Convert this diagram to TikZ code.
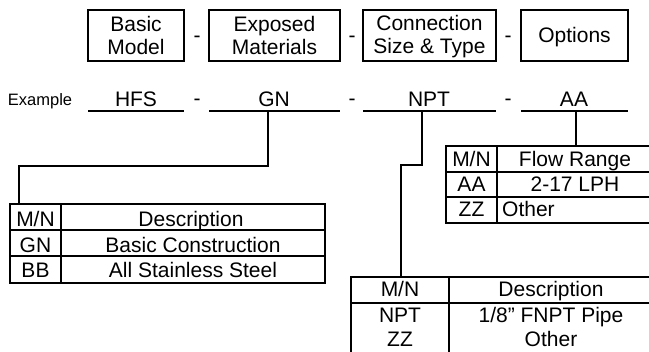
\documentclass[tikz,border=0pt]{standalone}
\usepackage{fontspec}
\setmainfont{Liberation Sans}
\newcommand{\boxstrut}{\rule[-2pt]{0pt}{20pt}}
\begin{document}
\begin{tikzpicture}[x=1pt,y=-1pt,
  every node/.style={font=\fontsize{21}{23}\selectfont, inner sep=0pt},
  txt/.style={anchor=base},
  hdrbox/.style={draw, line width=1.8pt, align=center, minimum height=51pt},
  uline/.style={line width=1.8pt},
  tline/.style={line width=1.8pt},
  conn/.style={line width=1.4pt},
  exlabel/.style={anchor=base, font=\fontsize{16.5}{19}\selectfont}]
\useasboundingbox (0,0) rectangle (649,352);
\begin{scope}
\clip (0,0) rectangle (649,352);
% header boxes
\node[hdrbox, minimum width=96pt] (b1) at (136,35.5) {\boxstrut Basic\\Model\boxstrut};
\node[txt] (d1) at (197,42.5) {-};
\node[hdrbox, minimum width=131pt] (b2) at (274.5,35.5) {\boxstrut Exposed\\Materials\boxstrut};
\node[txt] (d2) at (352,42.5) {-};
\node[hdrbox, minimum width=133pt] (b3) at (429.5,35.5) {\boxstrut Connection\\Size \& Type\boxstrut};
\node[txt] (d3) at (508,42.5) {-};
\node[hdrbox, minimum width=107pt] (b4) at (574.5,35.5) {\boxstrut Options};
% example row
\node[exlabel] (ex) at (40,106) {Example};
\node[txt] (hfs) at (136,107) {HFS};
\node[txt] (e1) at (197,106) {-};
\node[txt] (gn) at (274,107) {GN};
\node[txt] (e2) at (352,106) {-};
\node[txt] (npt) at (429,107) {NPT};
\node[txt] (e3) at (508,106) {-};
\node[txt] (aa) at (574,107) {AA};
\draw[uline] (88,111) -- (184,111);
\draw[uline] (209,111) -- (340,111);
\draw[uline] (363,111) -- (496,111);
\draw[uline] (521,111) -- (628,111);
\coordinate (gnc) at (268,111);
\coordinate (nptc) at (422,111);
\coordinate (aac) at (576,111);
% table 1
\draw[tline] (10,204) rectangle (325,283);
\draw[tline] (10,230) -- (325,230);
\draw[tline] (10,256) -- (325,256);
\draw[tline] (61,204) -- (61,283);
\coordinate (t1top) at (19,204);
\node[txt] (t1a) at (35.5,227) {M/N};
\node[txt] (t1b) at (191,227) {Description};
\node[txt] (t1c) at (35.5,252.5) {GN};
\node[txt] (t1d) at (193,252.5) {Basic Construction};
\node[txt] (t1e) at (35.5,278) {BB};
\node[txt] (t1f) at (193,278) {All Stainless Steel};
% table 2
\draw[tline] (660,146) -- (446,146) -- (446,223) -- (660,223);
\draw[tline] (446,172) -- (660,172);
\draw[tline] (446,197) -- (660,197);
\draw[tline] (497,146) -- (497,223);
\coordinate (t2top) at (576,146);
\node[txt] (t2a) at (471.5,167) {M/N};
\node[txt] (t2b) at (575,167) {Flow Range};
\node[txt] (t2c) at (471.5,192) {AA};
\node[txt] (t2d) at (575,192) {2-17 LPH};
\node[txt] (t2e) at (471.5,217) {ZZ};
\node[anchor=base west] (t2f) at (502,217) {Other};
% table 3
\draw[tline] (660,277) -- (351,277) -- (351,360);
\draw[tline] (351,303) -- (660,303);
\draw[tline] (449,277) -- (449,360);
\coordinate (t3top) at (401,277);
\node[txt] (t3a) at (400,297) {M/N};
\node[txt] (t3b) at (551,297) {Description};
\node[txt] (t3c) at (400,323) {NPT};
\node[txt] (t3d) at (551,323) {1/8” FNPT Pipe};
\node[txt] (t3e) at (400,347) {ZZ};
\node[txt] (t3f) at (551,347) {Other};
% connectors
\draw[conn] (gnc) |- (19,166) -- (t1top);
\draw[conn] (nptc) |- (401,165) -- (t3top);
\draw[conn] (aac) -- (t2top);
\end{scope}
\end{tikzpicture}
\end{document}
